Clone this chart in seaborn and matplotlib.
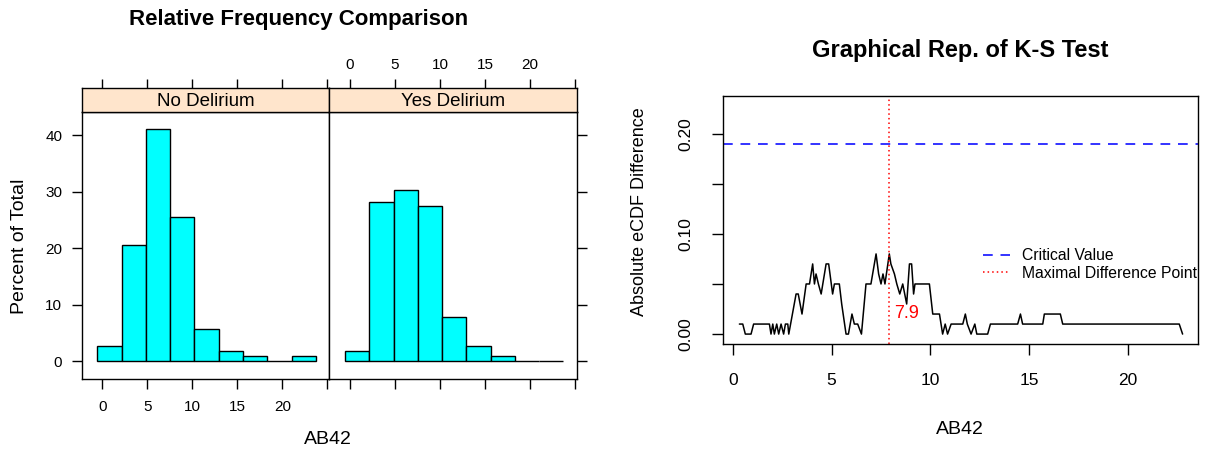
import numpy as np
import pandas as pd
import matplotlib
matplotlib.use('Agg')
import matplotlib.pyplot as plt
import seaborn as sns

sns.set_style('ticks')
plt.rcParams['font.family'] = ['Liberation Sans', 'DejaVu Sans']
plt.rcParams['text.color'] = 'black'
plt.rcParams['axes.labelcolor'] = 'black'

# 直方图数据（百分比）
bin_edges = np.linspace(-0.56, 23.71, 10)
groups = ['No Delirium', 'Yes Delirium']
pct_no = [2.8, 20.6, 41.1, 25.5, 5.8, 1.9, 0.9, 0.0, 0.9]
pct_yes = [1.9, 28.3, 30.3, 27.5, 7.8, 2.8, 0.9, 0.0, 0.0]

# K-S 检验：经验分布函数差的绝对值
ks_x = [0.33, 0.50, 0.63, 0.92, 1.05, 1.85, 1.93, 2.02, 2.10, 2.22,
        2.32, 2.44, 2.57, 2.66, 2.78, 2.83, 3.20, 3.31, 3.50, 3.71,
        3.88, 4.04, 4.13, 4.21, 4.33, 4.47, 4.72, 4.85, 5.05, 5.14,
        5.39, 5.51, 5.73, 5.85, 6.03, 6.15, 6.32, 6.51, 6.74, 6.99,
        7.25, 7.38, 7.50, 7.60, 7.70, 7.92, 8.00, 8.18, 8.30, 8.45,
        8.60, 8.70, 8.80, 8.94, 9.05, 9.15, 9.22, 9.95, 10.12, 10.46,
        10.62, 10.75, 10.87, 11.05, 11.64, 11.77, 11.87, 12.06, 12.25, 12.35,
        12.90, 13.04, 14.42, 14.56, 14.67, 15.69, 15.77, 16.58, 16.70, 22.60,
        22.77]
ks_y = [0.01, 0.01, 0.00, 0.00, 0.01, 0.01, 0.00, 0.01, 0.00, 0.01,
        0.00, 0.01, 0.00, 0.01, 0.01, 0.00, 0.04, 0.04, 0.02, 0.05,
        0.05, 0.07, 0.05, 0.06, 0.05, 0.04, 0.07, 0.07, 0.04, 0.05,
        0.05, 0.03, 0.00, 0.00, 0.02, 0.01, 0.01, 0.00, 0.05, 0.05,
        0.08, 0.06, 0.05, 0.06, 0.05, 0.08, 0.07, 0.06, 0.05, 0.04,
        0.05, 0.04, 0.03, 0.07, 0.07, 0.04, 0.05, 0.05, 0.02, 0.02,
        0.00, 0.01, 0.00, 0.01, 0.01, 0.02, 0.01, 0.00, 0.01, 0.00,
        0.00, 0.01, 0.01, 0.02, 0.01, 0.01, 0.02, 0.02, 0.01, 0.01,
        0.00]
critical_value = 0.19
max_diff_x = 7.9

W, H = 1208, 450
fig = plt.figure(figsize=(W / 100, H / 100), dpi=100)


def fx(px):
    return px / W


def fy(py):
    return 1 - py / H


# ---------- 左图：lattice 风格直方图 ----------
panel_w = 247.6
panel_left = [81.7, 81.7 + panel_w]
panel_top, panel_bot, strip_top = 112.3, 379.0, 88.3
x_ticks = [0, 5, 10, 15, 20, 25]
x_labels = ['0', '5', '10', '15', '20', '']
centers = (bin_edges[:-1] + bin_edges[1:]) / 2

for i, (name, pct) in enumerate(zip(groups, [pct_no, pct_yes])):
    ax = fig.add_axes([fx(panel_left[i]), fy(panel_bot), fx(panel_w),
                       (panel_bot - panel_top) / H])
    df = pd.DataFrame({'AB42': centers, 'pct': pct})
    sns.histplot(data=df, x='AB42', weights='pct', bins=list(bin_edges),
                 stat='count', color='#00FFFF', edgecolor='black',
                 linewidth=1.0, alpha=1, ax=ax)
    ax.set_xlim(-2.3, 25.2)
    ax.set_ylim(-3.1, 44.1)
    ax.set_xlabel('')
    ax.set_ylabel('')
    ax.set_xticks(x_ticks)
    ax.set_yticks([0, 10, 20, 30, 40])
    ax.tick_params(direction='out', length=7, width=1, labelsize=11,
                   colors='black')
    ax.tick_params(axis='x', pad=8)
    ax.tick_params(axis='y', pad=7)
    if i == 0:
        ax.set_xticklabels(x_labels)
        ax.tick_params(axis='y', left=True, right=False, labelleft=True)
    else:
        ax.set_xticklabels([''] * len(x_ticks))
        ax.tick_params(axis='y', left=False, right=True, labelleft=False,
                       labelright=False)
    for s in ax.spines.values():
        s.set_visible(True)
        s.set_color('black')
        s.set_linewidth(1)

    sax = fig.add_axes([fx(panel_left[i]), fy(panel_top), fx(panel_w),
                        (panel_top - strip_top) / H])
    sax.set_facecolor('#FFE5CC')
    sax.set_xlim(-2.3, 25.2)
    sax.set_ylim(0, 1)
    sax.set_yticks([])
    sax.xaxis.set_ticks_position('top')
    sax.set_xticks(x_ticks)
    sax.tick_params(axis='x', direction='out', length=6.5, width=1,
                    labelsize=11, pad=5, colors='black')
    if i == 1:
        sax.set_xticklabels(x_labels)
    else:
        sax.set_xticklabels([''] * len(x_ticks))
    for s in sax.spines.values():
        s.set_color('black')
        s.set_linewidth(1)
    sax.text(0.5, 0.45, name, transform=sax.transAxes, ha='center',
             va='center', fontsize=13.5)

fig.text(fx(298.5), fy(20), 'Relative Frequency Comparison', ha='center',
         va='center', fontsize=16, fontweight='bold')
fig.text(fx(328), fy(440), 'AB42', ha='center', va='center', fontsize=14)
fig.text(fx(20), fy(246), 'Percent of Total', ha='center', va='center',
         rotation=90, fontsize=14)

# ---------- 右图：K-S 检验 ----------
bx0, bx1, by0, by1 = 723, 1198, 96, 344
ax2 = fig.add_axes([fx(bx0), fy(by1), fx(bx1 - bx0), (by1 - by0) / H])
ks_df = pd.DataFrame({'AB42': ks_x, 'diff': ks_y})
sns.lineplot(data=ks_df, x='AB42', y='diff', color='black', linewidth=1.1,
             estimator=None, ax=ax2)
ax2.axhline(critical_value, color='#3333FF', linestyle=(0, (5, 4)),
            linewidth=1.4, label='Critical Value')
ax2.axvline(max_diff_x, color='red', linestyle=(0, (1, 2)), linewidth=1.1,
            label='Maximal Difference Point')
ax2.annotate(f'{max_diff_x}', xy=(max_diff_x, 0.021), xytext=(3.5, 0),
             textcoords='offset points', color='red', fontsize=13,
             ha='left', va='center')
ax2.set_xlim(-0.5, 23.55)
ax2.set_ylim(-0.0099, 0.2376)
ax2.set_xticks([0, 5, 10, 15, 20])
ax2.set_yticks([0, 0.05, 0.10, 0.15, 0.20])
ax2.set_yticklabels(['0.00', '', '0.10', '', '0.20'], rotation=90,
                    va='center')
ax2.tick_params(direction='out', length=8, width=1, labelsize=12.5,
                colors='black', pad=13)
ax2.set_xlabel('')
ax2.set_ylabel('')
for s in ax2.spines.values():
    s.set_visible(True)
    s.set_color('black')
    s.set_linewidth(1)
ax2.legend(loc='upper left', bbox_to_anchor=(0.547, 0.386), frameon=False,
           fontsize=11.3, handlelength=1.72, handletextpad=0.75,
           labelspacing=0.17, borderpad=0, borderaxespad=0)

fig.text(fx(960), fy(50), 'Graphical Rep. of K-S Test', ha='center',
         va='center', fontsize=17, fontweight='bold')
fig.text(fx(960), fy(430), 'AB42', ha='center', va='center', fontsize=14)
fig.text(fx(640), fy(212), 'Absolute eCDF Difference', ha='center',
         va='center', rotation=90, fontsize=13)

fig.savefig('out.png', dpi=100, facecolor='white')
